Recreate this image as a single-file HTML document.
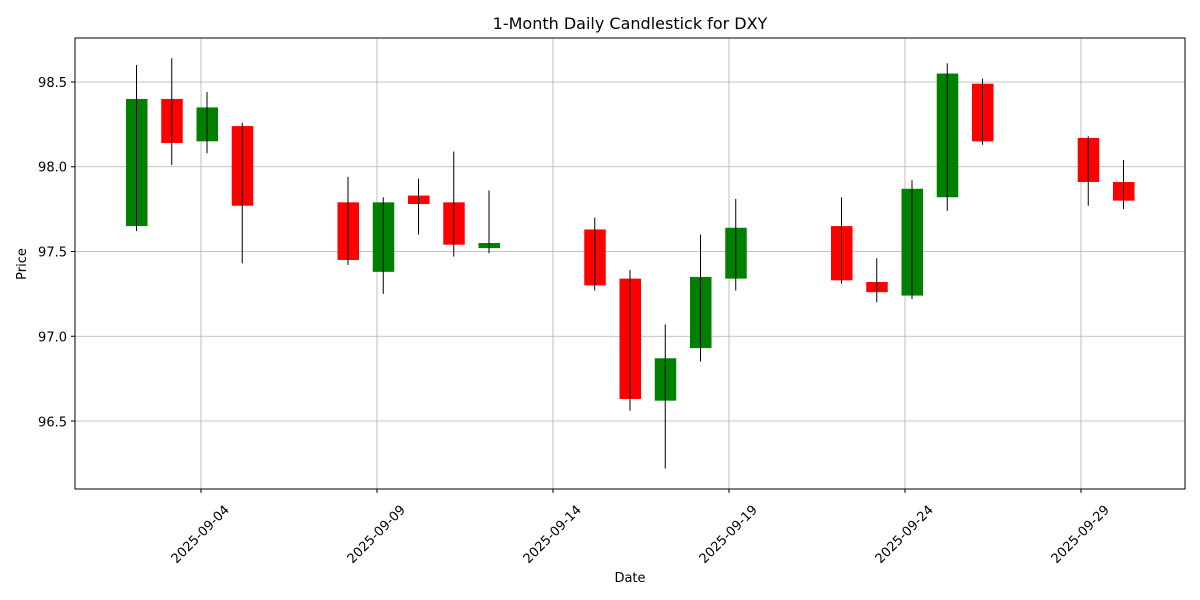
<!DOCTYPE html>
<html><head><meta charset="utf-8"><style>
html,body{margin:0;padding:0;background:#fff;}
svg{display:block;font-family:"DejaVu Sans","Liberation Sans",sans-serif;}
</style></head><body>
<svg id="c" width="1200" height="600" xmlns="http://www.w3.org/2000/svg">
<rect width="1200" height="600" fill="#fff"/>
<g id="grid" stroke="#b0b0b0" stroke-width="0.8"></g>
<g id="candles"></g>
<rect x="75" y="38" width="1110" height="451" fill="none" stroke="#000" stroke-width="1"/>
<text x="630" y="29" font-size="16" text-anchor="middle">1-Month Daily Candlestick for DXY</text>
<text x="630" y="582" font-size="13" text-anchor="middle">Date</text>
<text x="26" y="264" font-size="13" text-anchor="middle" transform="rotate(-90 26 264)">Price</text>
<g font-size="13" text-anchor="end">
<text x="67" y="426.5">96.5</text>
<text x="67" y="341.5">97.0</text>
<text x="67" y="256.5">97.5</text>
<text x="67" y="171.5">98.0</text>
<text x="67" y="87">98.5</text>
</g>
<g font-size="13" text-anchor="middle">
<text dy="0.35em" transform="translate(200,534) rotate(-45)">2025-09-04</text>
<text dy="0.35em" transform="translate(376,534) rotate(-45)">2025-09-09</text>
<text dy="0.35em" transform="translate(552,534) rotate(-45)">2025-09-14</text>
<text dy="0.35em" transform="translate(728,534) rotate(-45)">2025-09-19</text>
<text dy="0.35em" transform="translate(904,534) rotate(-45)">2025-09-24</text>
<text dy="0.35em" transform="translate(1080,534) rotate(-45)">2025-09-29</text>
</g>
</svg>
<script>
var ns="http://www.w3.org/2000/svg";
function el(p,t,a){var e=document.createElementNS(ns,t);for(var k in a)e.setAttribute(k,a[k]);p.appendChild(e);return e;}
function Y(v){return 82+(98.5-v)*169.5;}
function X(d){return 201+35.2*(d-4);}
var g=document.getElementById('grid');
[4,9,14,19,24,29].forEach(function(d){var x=X(d);el(g,'line',{x1:x,x2:x,y1:38,y2:489});el(document.getElementById('c'),'line',{x1:x,x2:x,y1:489,y2:493,stroke:'#000'});});
[96.5,97,97.5,98,98.5].forEach(function(v){var y=Y(v);el(g,'line',{x1:75,x2:1185,y1:y,y2:y});el(document.getElementById('c'),'line',{x1:71,x2:75,y1:y,y2:y,stroke:'#000'});});
var data=[[2,97.65,98.40,98.60,97.62],[3,98.40,98.14,98.64,98.01],[4,98.15,98.35,98.44,98.08],[5,98.24,97.77,98.26,97.43],
[8,97.79,97.45,97.94,97.42],[9,97.38,97.79,97.82,97.25],[10,97.83,97.78,97.93,97.60],[11,97.79,97.54,98.09,97.47],[12,97.52,97.55,97.86,97.49],
[15,97.63,97.30,97.70,97.27],[16,97.34,96.63,97.39,96.56],[17,96.62,96.87,97.07,96.22],[18,96.93,97.35,97.60,96.85],[19,97.34,97.64,97.81,97.27],
[22,97.65,97.33,97.82,97.31],[23,97.32,97.26,97.46,97.20],[24,97.24,97.87,97.92,97.22],[25,97.82,98.55,98.61,97.74],[26,98.49,98.15,98.52,98.13],
[29,98.17,97.91,98.18,97.77],[30,97.91,97.80,98.04,97.75]];
var c=document.getElementById('candles');
data.forEach(function(r){var L=126+35.25*(r[0]-2);var col=r[2]>=r[1]?'green':'red';
var t=Y(Math.max(r[1],r[2])),b=Y(Math.min(r[1],r[2]));
el(c,'rect',{x:L,y:t,width:21.5,height:Math.max(b-t,1),fill:col});
el(c,'line',{x1:L+10.5,x2:L+10.5,y1:Y(r[3]),y2:Y(r[4]),stroke:'#000','stroke-width':1});});
</script>
</body></html>
